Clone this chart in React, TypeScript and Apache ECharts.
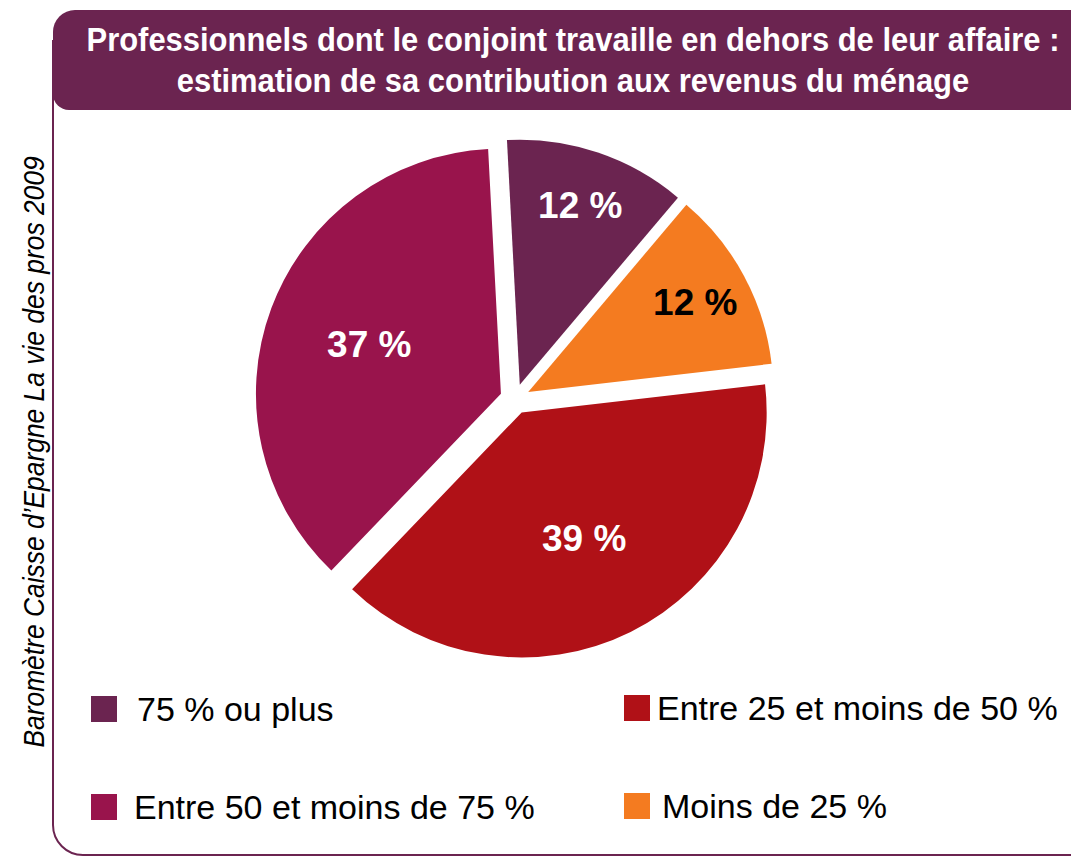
import React, { useEffect, useRef } from "react";
import * as echarts from "echarts";

const categories = ["75 % ou plus", "Moins de 25 %", "Entre 25 et moins de 50 %", "Entre 50 et moins de 75 %"];
const values = [12, 12, 39, 37];
const colors = ["#6b2450", "#f47b20", "#b01117", "#99144c"];
const labelColors = ["#ffffff", "#000000", "#ffffff", "#ffffff"];
const legendLeft = ["75 % ou plus", "Entre 50 et moins de 75 %"];
const legendRight = ["Entre 25 et moins de 50 %", "Moins de 25 %"];
const titleLines = [
  "Professionnels dont le conjoint travaille en dehors de leur affaire :",
  "estimation de sa contribution aux revenus du ménage",
];
const sourceText = "Baromètre Caisse d’Epargne La vie des pros 2009";

const FONT = "'Liberation Sans', Arial, sans-serif";
const PURPLE = "#6b2450";

export default function App() {
  const ref = useRef<HTMLDivElement>(null);
  useEffect(() => {
    if (!ref.current) return;
    const chart = echarts.init(ref.current, undefined, { renderer: "svg" });
    const center = [515, 399];
    const mainData = categories.map((name, i) => ({
      name,
      value: values[i],
      selected: true,
      itemStyle: { color: colors[i] },
    }));
    // small slices get their labels further out than the large ones
    const labelData = (big: boolean) =>
      categories.map((name, i) => ({
        name,
        value: values[i],
        selected: true,
        label: { show: (values[i] > 20) === big, color: labelColors[i] },
      }));
    const labelSeries = (r0: number, big: boolean) => ({
      type: "pie",
      center,
      radius: [r0, 245],
      startAngle: 93,
      clockwise: true,
      selectedMode: "multiple",
      selectedOffset: 15,
      silent: true,
      itemStyle: { color: "rgba(0,0,0,0)" },
      label: {
        position: "inside",
        formatter: (p: any) => `${p.value} %`,
        fontSize: 37,
        fontWeight: "bold",
        fontFamily: FONT,
      },
      labelLine: { show: false },
      emphasis: { disabled: true },
      data: labelData(big),
    });
    const legendCommon = {
      orient: "vertical" as const,
      icon: "rect",
      itemWidth: 26,
      itemHeight: 26,
      itemGap: 62,
      selectedMode: false,
      textStyle: { fontSize: 34, lineHeight: 36, fontFamily: FONT, color: "#000" },
    };
    chart.setOption({
      animation: false,
      backgroundColor: "#ffffff",
      legend: [
        {
          ...legendCommon,
          left: 86,
          top: 686,
          data: [
            { name: legendLeft[0], textStyle: { padding: [0, 0, 0, 15] } },
            { name: legendLeft[1], textStyle: { padding: [0, 0, 0, 12] } },
          ],
        },
        {
          ...legendCommon,
          left: 619,
          top: 685,
          data: [
            { name: legendRight[0], textStyle: { padding: [0, 0, 0, 2] } },
            { name: legendRight[1], textStyle: { padding: [0, 0, 0, 7] } },
          ],
        },
      ],
      graphic: [
        {
          type: "rect",
          z: 1,
          shape: { x: 53, y: 40, width: 1100, height: 815, r: [0, 0, 0, 30] },
          style: { fill: "none", stroke: PURPLE, lineWidth: 2 },
        },
        {
          type: "rect",
          z: 2,
          shape: { x: 53, y: 10, width: 1100, height: 100, r: [22, 0, 0, 16] },
          style: { fill: PURPLE },
        },
        {
          type: "text",
          z: 3,
          x: 573,
          y: 20,
          scaleX: 0.91,
          style: {
            text: titleLines.join("\n"),
            fill: "#ffffff",
            font: `bold 34px ${FONT}`,
            lineHeight: 40,
            textAlign: "center",
            textVerticalAlign: "top",
          },
        },
        {
          type: "text",
          z: 3,
          x: 33,
          y: 452,
          rotation: Math.PI / 2,
          scaleX: 0.88,
          style: {
            text: sourceText,
            fill: "#000000",
            font: `italic 30px ${FONT}`,
            textAlign: "center",
            textVerticalAlign: "middle",
          },
        },
      ],
      series: [
        {
          type: "pie",
          center,
          radius: [0, 245],
          startAngle: 93,
          clockwise: true,
          selectedMode: "multiple",
          selectedOffset: 15,
          silent: true,
          label: { show: false },
          labelLine: { show: false },
          emphasis: { disabled: true },
          data: mainData,
        },
        labelSeries(128, false),
        labelSeries(30, true),
      ],
    });
    return () => chart.dispose();
  }, []);
  return (
    <div
      ref={ref}
      style={{ position: "fixed", left: 0, top: 0, width: 1071, height: 856 }}
    />
  );
}
